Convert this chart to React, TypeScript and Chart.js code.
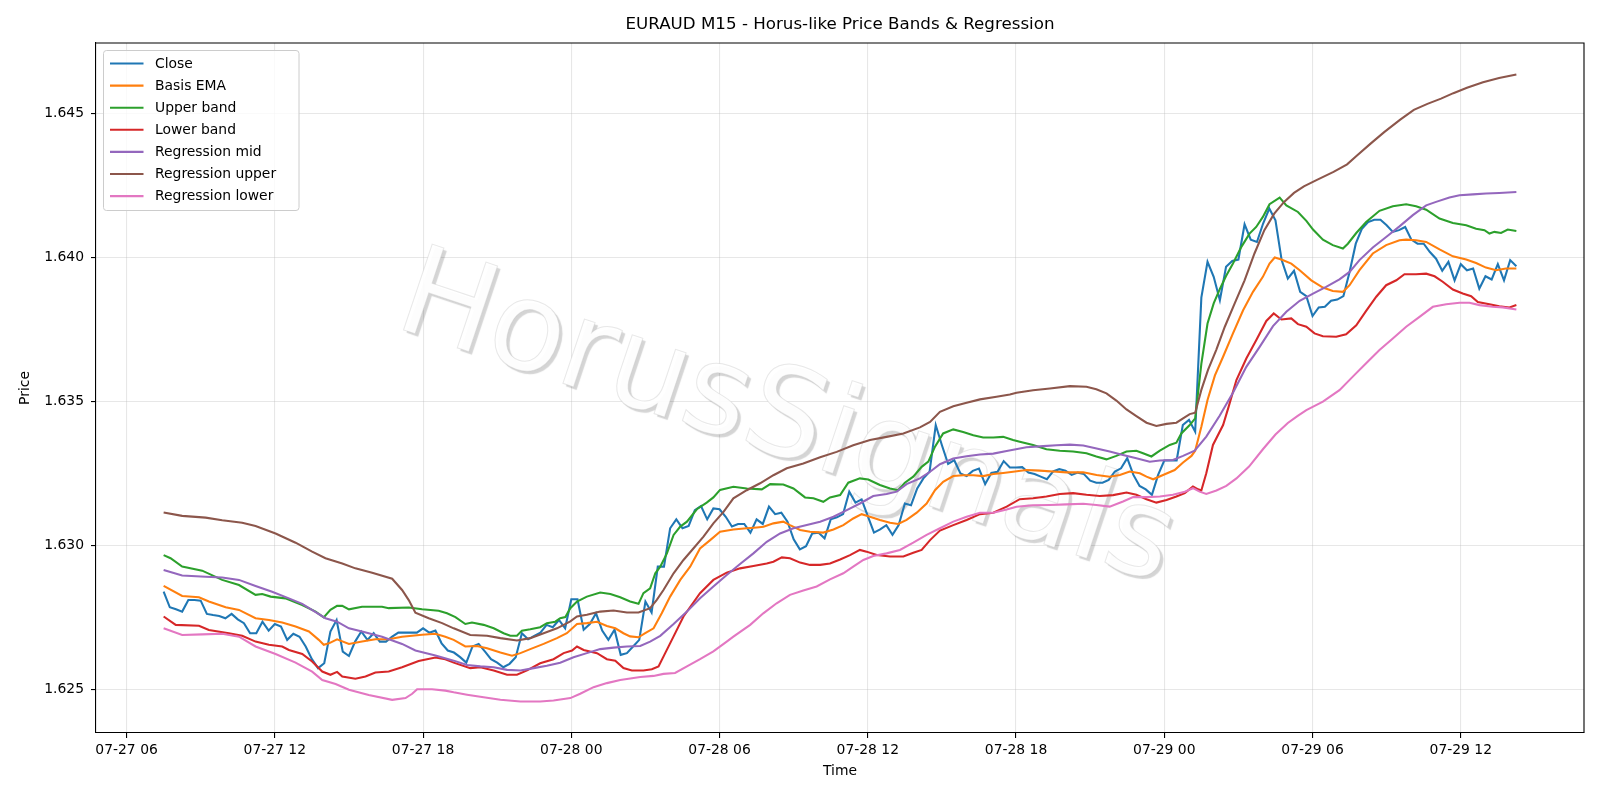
import React, { useEffect, useRef } from "react";
import { Chart, registerables } from "chart.js";

Chart.register(...registerables);

const TITLE = "EURAUD M15 - Horus-like Price Bands & Regression";
const X_LABEL = "Time";
const Y_LABEL = "Price";
const WATERMARK = "HorusSignals";

// hours counted from 07-27 00:00
const xTickHours = [6, 12, 18, 24, 30, 36, 42, 48, 54, 60];
const yTickValues = [1.625, 1.63, 1.635, 1.64, 1.645];

// Close: 15-minute bars starting 07-27 07:30
const closeStartHour = 7.5;
const closeStepHours = 0.25;
const closeValues = [
  1.62840, 1.62786, 1.62779, 1.62771, 1.62811, 1.62811, 1.62809, 1.62763, 1.62759, 1.62756,
  1.62748, 1.62763, 1.62744, 1.62731, 1.62696, 1.62696, 1.62736, 1.62705, 1.62728, 1.62719,
  1.62673, 1.62694, 1.62684, 1.62650, 1.62606, 1.62575, 1.62592, 1.62702, 1.62742, 1.62632,
  1.62617, 1.62667, 1.62702, 1.62673, 1.62696, 1.62667, 1.62667, 1.62684, 1.62698, 1.62698,
  1.62698, 1.62698, 1.62713, 1.62698, 1.62705, 1.62661, 1.62636, 1.62629,
  1.62613, 1.62594, 1.62650, 1.62659, 1.62633, 1.62606, 1.62594, 1.62578, 1.62590, 1.62613,
  1.62696, 1.62675, 1.62687, 1.62698, 1.62725, 1.62717, 1.62742, 1.62713, 1.62814, 1.62814,
  1.62708, 1.62728, 1.62765, 1.62705, 1.62673, 1.62708, 1.62621, 1.62627, 1.62650, 1.62673,
  1.62806, 1.62768, 1.62927, 1.62927, 1.63060, 1.63091, 1.63060, 1.63068, 1.63123, 1.63137,
  1.63091, 1.63129, 1.63126, 1.63100, 1.63066, 1.63075,
  1.63075, 1.63045, 1.63091, 1.63075, 1.63135, 1.63109, 1.63114, 1.63083, 1.63022, 1.62987,
  1.62998, 1.63042, 1.63045, 1.63025, 1.63091, 1.63098, 1.63109, 1.63187, 1.63149, 1.63160,
  1.63102, 1.63045, 1.63056, 1.63071, 1.63037, 1.63071, 1.63146, 1.63140, 1.63198, 1.63233,
  1.63256, 1.63418, 1.63348, 1.63283, 1.63296, 1.63250, 1.63241, 1.63259, 1.63267, 1.63213,
  1.63252, 1.63256, 1.63293, 1.63271, 1.63271,
  1.63272, 1.63253, 1.63248, 1.63239, 1.63230, 1.63257, 1.63265, 1.63260, 1.63245, 1.63253,
  1.63248, 1.63225, 1.63218, 1.63218, 1.63228, 1.63257, 1.63268, 1.63303, 1.63245, 1.63207,
  1.63195, 1.63176, 1.63245, 1.63295, 1.63295, 1.63295, 1.63418, 1.63436, 1.63395,
  1.63860, 1.63984, 1.63932, 1.63851, 1.63967, 1.63987, 1.63992, 1.64114, 1.64061, 1.64053,
  1.64117, 1.64169, 1.64128, 1.63990, 1.63926, 1.63953, 1.63880, 1.63865, 1.63796, 1.63826,
  1.63828, 1.63849, 1.63853, 1.63865, 1.63949, 1.64047, 1.64099, 1.64122, 1.64130, 1.64130,
  1.64111, 1.64088, 1.64094, 1.64105, 1.64061, 1.64047, 1.64047, 1.64018, 1.63995, 1.63953,
  1.63984, 1.63920, 1.63976, 1.63955, 1.63961, 1.63891, 1.63934, 1.63923, 1.63976, 1.63920,
  1.63990, 1.63969,
];

// smooth series: [hour, value]
const basisEma: [number, number][] = [
  [7.5, 1.62860], [8.25, 1.62825], [8.93, 1.62821], [9.33, 1.62806], [10.01, 1.62786], [10.55, 1.62777],
  [11.22, 1.62748], [11.76, 1.62742], [12.3, 1.62733], [12.84, 1.62719], [13.38, 1.62702], [13.78, 1.62673],
  [13.98, 1.62656], [14.19, 1.62661], [14.52, 1.62675], [15.0, 1.62659], [15.53, 1.62667], [16.07, 1.62675],
  [16.61, 1.62675], [17.15, 1.62684], [17.96, 1.62691], [18.5, 1.62694], [18.9, 1.62684],
  [19.24, 1.62673], [19.71, 1.62650], [20.18, 1.62652], [20.59, 1.62644], [21.13, 1.62629], [21.6, 1.62618],
  [21.94, 1.62627], [22.34, 1.62641], [22.88, 1.62659], [23.42, 1.62679], [23.82, 1.62696], [24.23, 1.62728],
  [24.63, 1.62731], [25.04, 1.62736], [25.44, 1.62721], [25.78, 1.62713], [26.11, 1.62696], [26.38, 1.62685],
  [26.72, 1.62682], [26.99, 1.62696], [27.33, 1.62713], [27.66, 1.62765], [28.0, 1.62823], [28.41, 1.62881],
  [28.81, 1.62927], [29.21, 1.62990], [29.62, 1.63019], [30.02, 1.63048],
  [30.56, 1.63056], [31.1, 1.63060], [31.51, 1.63063], [31.78, 1.63065], [32.18, 1.63077], [32.58, 1.63083],
  [32.85, 1.63071], [33.26, 1.63054], [33.66, 1.63048], [34.2, 1.63045], [34.61, 1.63056], [35.01, 1.63071],
  [35.41, 1.63094], [35.75, 1.63109], [36.09, 1.63100], [36.49, 1.63089], [36.9, 1.63079], [37.23, 1.63075],
  [37.57, 1.63089], [37.98, 1.63114], [38.38, 1.63146], [38.72, 1.63192], [39.05, 1.63221], [39.46, 1.63241],
  [39.86, 1.63244], [40.27, 1.63244], [40.67, 1.63241], [41.08, 1.63248], [41.48, 1.63252], [41.88, 1.63256],
  [42.42, 1.63262], [42.96, 1.63260], [43.5, 1.63257], [44.04, 1.63254], [44.72, 1.63254], [45.26, 1.63245],
  [45.79, 1.63239], [46.2, 1.63245], [46.6, 1.63257], [47.01, 1.63251], [47.28, 1.63239], [47.55, 1.63230],
  [47.95, 1.63245], [48.42, 1.63262], [48.76, 1.63288], [49.1, 1.63311], [49.25, 1.63329], [49.5, 1.63412],
  [49.75, 1.63505], [50.05, 1.63590], [50.38, 1.63655], [50.78, 1.63736], [51.19, 1.63816], [51.59, 1.63880],
  [51.99, 1.63932], [52.26, 1.63978], [52.47, 1.63999], [52.74, 1.63992], [53.14, 1.63978], [53.48, 1.63955],
  [53.95, 1.63920], [54.42, 1.63895], [54.82, 1.63883], [55.23, 1.63880], [55.5, 1.63903], [55.9, 1.63955],
  [56.44, 1.64013], [56.98, 1.64042], [57.52, 1.64059], [57.79, 1.64061], [58.19, 1.64059], [58.6, 1.64053],
  [59.14, 1.64027], [59.68, 1.64003], [60.22, 1.63992], [60.62, 1.63980], [61.02, 1.63964], [61.43, 1.63955],
  [61.83, 1.63961], [62.25, 1.63961],
];

const upperBand: [number, number][] = [
  [7.5, 1.62967], [7.78, 1.62956], [8.25, 1.62927], [9.06, 1.62913], [9.87, 1.62881], [10.55, 1.62863],
  [11.22, 1.62829], [11.49, 1.62832], [11.83, 1.62823], [12.43, 1.62817], [13.11, 1.62794], [13.65, 1.62771],
  [13.98, 1.62751], [14.25, 1.62777], [14.52, 1.62791], [14.73, 1.62791], [15.0, 1.62779], [15.53, 1.62788],
  [16.34, 1.62788], [16.61, 1.62783], [17.42, 1.62785], [17.96, 1.62779], [18.63, 1.62774],
  [18.97, 1.62765], [19.31, 1.62752], [19.71, 1.62728], [19.98, 1.62733], [20.45, 1.62725], [20.86, 1.62713],
  [21.26, 1.62696], [21.53, 1.62687], [21.8, 1.62687], [22.0, 1.62705], [22.34, 1.62710], [22.74, 1.62717],
  [23.01, 1.62731], [23.35, 1.62736], [23.55, 1.62748], [23.76, 1.62752], [23.96, 1.62783], [24.23, 1.62806],
  [24.63, 1.62823], [25.17, 1.62837], [25.58, 1.62832], [25.98, 1.62821], [26.38, 1.62806], [26.72, 1.62798],
  [26.92, 1.62835], [27.19, 1.62852], [27.4, 1.62904], [27.6, 1.62927], [27.87, 1.62973], [28.14, 1.63037],
  [28.41, 1.63066], [28.68, 1.63083], [29.08, 1.63126], [29.48, 1.63149], [29.75, 1.63167], [30.02, 1.63193],
  [30.56, 1.63204], [31.1, 1.63198], [31.71, 1.63195], [32.05, 1.63213], [32.58, 1.63212], [32.99, 1.63198],
  [33.46, 1.63167], [33.8, 1.63164], [34.2, 1.63152], [34.47, 1.63167], [34.88, 1.63175], [35.21, 1.63218],
  [35.68, 1.63233], [36.02, 1.63229], [36.49, 1.63210], [36.9, 1.63198], [37.23, 1.63192], [37.5, 1.63218],
  [37.84, 1.63239], [38.18, 1.63273], [38.45, 1.63291], [38.72, 1.63343], [39.05, 1.63389], [39.46, 1.63403],
  [39.86, 1.63394], [40.27, 1.63383], [40.67, 1.63375], [41.08, 1.63375], [41.48, 1.63377], [41.88, 1.63366],
  [42.15, 1.63360], [42.69, 1.63349], [43.23, 1.63334], [43.77, 1.63329], [44.31, 1.63326], [44.85, 1.63320],
  [45.25, 1.63309], [45.66, 1.63299], [46.06, 1.63311], [46.47, 1.63326], [46.87, 1.63329], [47.14, 1.63320],
  [47.48, 1.63309], [47.82, 1.63329], [48.22, 1.63349], [48.49, 1.63357], [48.69, 1.63389], [49.03, 1.63418],
  [49.25, 1.63441], [49.5, 1.63630], [49.75, 1.63770], [50.0, 1.63840], [50.25, 1.63890], [50.5, 1.63935],
  [50.78, 1.63978], [51.12, 1.64036], [51.45, 1.64082], [51.72, 1.64105], [51.99, 1.64140], [52.26, 1.64184],
  [52.67, 1.64207], [52.94, 1.64180], [53.41, 1.64157], [53.75, 1.64126], [54.02, 1.64096], [54.42, 1.64061],
  [54.82, 1.64042], [55.23, 1.64030], [55.43, 1.64047], [55.77, 1.64084], [56.17, 1.64122], [56.71, 1.64161],
  [57.25, 1.64177], [57.79, 1.64184], [58.19, 1.64177], [58.6, 1.64165], [59.14, 1.64134], [59.68, 1.64119],
  [60.22, 1.64111], [60.62, 1.64099], [60.96, 1.64094], [61.16, 1.64082], [61.36, 1.64088], [61.63, 1.64084],
  [61.9, 1.64096], [62.25, 1.64091],
];

const lowerBand: [number, number][] = [
  [7.5, 1.62754], [7.99, 1.62725], [8.93, 1.62722], [9.33, 1.62707], [10.14, 1.62696], [10.68, 1.62687],
  [11.22, 1.62667], [11.76, 1.62656], [12.3, 1.62650], [12.57, 1.62638], [13.11, 1.62624], [13.51, 1.62598],
  [13.92, 1.62563], [14.25, 1.62552], [14.52, 1.62562], [14.73, 1.62546], [15.26, 1.62538], [15.67, 1.62546],
  [16.07, 1.62560], [16.61, 1.62563], [17.15, 1.62578], [17.82, 1.62600], [18.5, 1.62612], [18.9, 1.62606],
  [19.24, 1.62594], [19.91, 1.62575], [20.32, 1.62578], [20.86, 1.62567], [21.4, 1.62552], [21.8, 1.62552],
  [22.21, 1.62567], [22.74, 1.62592], [23.28, 1.62606], [23.69, 1.62627], [24.03, 1.62636], [24.23, 1.62650],
  [24.5, 1.62638], [25.04, 1.62627], [25.44, 1.62606], [25.78, 1.62601], [26.11, 1.62575], [26.45, 1.62567],
  [26.92, 1.62567], [27.26, 1.62571], [27.53, 1.62581], [27.8, 1.62627], [28.14, 1.62685], [28.54, 1.62754],
  [29.21, 1.62835], [29.75, 1.62881], [30.29, 1.62906],
  [30.83, 1.62921], [31.37, 1.62929], [31.91, 1.62938], [32.18, 1.62944], [32.52, 1.62959], [32.85, 1.62956],
  [33.26, 1.62941], [33.66, 1.62933], [34.07, 1.62933], [34.47, 1.62938], [34.88, 1.62952], [35.28, 1.62967],
  [35.68, 1.62985], [35.95, 1.62979], [36.36, 1.62967], [36.9, 1.62962], [37.44, 1.62962], [37.84, 1.62975],
  [38.18, 1.62985], [38.52, 1.63019], [38.92, 1.63052], [39.46, 1.63071], [40.0, 1.63089], [40.54, 1.63109],
  [41.08, 1.63114], [41.62, 1.63135],
  [42.15, 1.63161], [42.69, 1.63164], [43.23, 1.63170], [43.77, 1.63179], [44.31, 1.63182], [44.85, 1.63176],
  [45.39, 1.63172], [45.93, 1.63175], [46.47, 1.63184], [46.87, 1.63176], [47.28, 1.63161], [47.68, 1.63149],
  [48.09, 1.63158], [48.49, 1.63170], [48.83, 1.63182], [49.16, 1.63205], [49.37, 1.63195], [49.5, 1.63191],
  [49.7, 1.63251], [49.97, 1.63349], [50.38, 1.63418], [50.6, 1.63480],
  [50.92, 1.63574], [51.32, 1.63649], [51.72, 1.63712], [52.13, 1.63779], [52.43, 1.63805], [52.74, 1.63784],
  [53.14, 1.63788], [53.41, 1.63768], [53.75, 1.63759], [54.08, 1.63736], [54.42, 1.63726], [54.96, 1.63724],
  [55.36, 1.63733], [55.77, 1.63764], [56.17, 1.63814], [56.58, 1.63863], [56.98, 1.63903], [57.39, 1.63920],
  [57.72, 1.63941], [58.19, 1.63941], [58.6, 1.63943], [58.94, 1.63934], [59.27, 1.63915], [59.68, 1.63888],
  [60.08, 1.63874], [60.42, 1.63865], [60.69, 1.63845], [61.16, 1.63837], [61.56, 1.63830], [61.97, 1.63826],
  [62.25, 1.63834],
];

const regressionMid: [number, number][] = [
  [7.5, 1.62915], [8.25, 1.62896], [9.2, 1.62892], [9.87, 1.62889], [10.55, 1.62881], [11.22, 1.62860],
  [11.89, 1.62840], [12.57, 1.62817], [13.11, 1.62798], [13.65, 1.62769], [14.05, 1.62748], [14.52, 1.62736],
  [15.0, 1.62713], [15.53, 1.62702], [16.34, 1.62684], [17.15, 1.62659], [17.69, 1.62636], [18.5, 1.62619],
  [19.24, 1.62601], [19.78, 1.62586], [20.32, 1.62581], [20.86, 1.62578], [21.4, 1.62569], [21.94, 1.62567],
  [22.48, 1.62575], [23.01, 1.62583], [23.55, 1.62594], [24.09, 1.62613], [24.63, 1.62627], [25.17, 1.62641],
  [25.71, 1.62646], [26.25, 1.62650], [26.79, 1.62652], [27.19, 1.62667], [27.6, 1.62687], [28.14, 1.62728],
  [28.68, 1.62771], [29.21, 1.62817], [29.75, 1.62858], [30.29, 1.62898],
  [30.83, 1.62936], [31.37, 1.62973], [31.91, 1.63013], [32.45, 1.63042], [32.99, 1.63060], [33.53, 1.63071],
  [34.07, 1.63083], [34.61, 1.63100], [35.15, 1.63123], [35.68, 1.63146], [36.22, 1.63172], [36.76, 1.63179],
  [37.17, 1.63187], [37.57, 1.63213], [38.11, 1.63233], [38.52, 1.63256], [38.92, 1.63282], [39.46, 1.63302],
  [40.0, 1.63310], [40.54, 1.63316], [41.08, 1.63319], [41.62, 1.63328],
  [42.42, 1.63341], [43.1, 1.63345], [43.64, 1.63348], [44.18, 1.63350], [44.72, 1.63347], [45.26, 1.63337],
  [45.79, 1.63326], [46.33, 1.63314], [46.87, 1.63303], [47.41, 1.63291], [47.82, 1.63295], [48.35, 1.63297],
  [48.76, 1.63311], [49.23, 1.63329], [49.7, 1.63378], [50.24, 1.63450],
  [50.78, 1.63530], [51.32, 1.63620], [51.86, 1.63689], [52.4, 1.63761], [52.94, 1.63811], [53.48, 1.63849],
  [54.02, 1.63874], [54.55, 1.63897], [55.09, 1.63923], [55.5, 1.63949], [55.9, 1.63990], [56.44, 1.64034],
  [56.98, 1.64070], [57.52, 1.64107], [58.06, 1.64146], [58.6, 1.64180], [59.0, 1.64192], [59.54, 1.64207],
  [59.95, 1.64215], [60.49, 1.64218], [61.02, 1.64221], [61.56, 1.64223], [62.25, 1.64226],
];

const regressionUpper: [number, number][] = [
  [7.5, 1.63115], [8.25, 1.63103], [9.2, 1.63097], [9.87, 1.63088], [10.68, 1.63079], [11.22, 1.63068],
  [12.03, 1.63042], [12.84, 1.63010], [13.51, 1.62979], [14.05, 1.62956], [14.73, 1.62938], [15.26, 1.62921],
  [15.94, 1.62906], [16.75, 1.62885], [17.15, 1.62846], [17.42, 1.62811], [17.69, 1.62767], [18.23, 1.62748],
  [18.77, 1.62731],
  [19.24, 1.62713], [19.91, 1.62690], [20.59, 1.62687], [21.13, 1.62679], [21.8, 1.62671], [22.34, 1.62679],
  [22.88, 1.62696], [23.42, 1.62713], [23.96, 1.62737], [24.23, 1.62754], [24.63, 1.62760], [25.17, 1.62771],
  [25.71, 1.62775], [26.25, 1.62768], [26.72, 1.62768], [27.19, 1.62783], [27.46, 1.62812], [27.73, 1.62846],
  [28.14, 1.62904], [28.54, 1.62950], [28.94, 1.62990], [29.35, 1.63031], [29.75, 1.63077], [30.16, 1.63117],
  [30.56, 1.63164], [31.1, 1.63192], [31.64, 1.63216], [32.18, 1.63244], [32.72, 1.63268], [33.39, 1.63285],
  [34.07, 1.63306], [34.74, 1.63325], [35.41, 1.63348], [36.09, 1.63366], [36.76, 1.63377], [37.44, 1.63389],
  [38.11, 1.63410], [38.52, 1.63429], [38.92, 1.63464], [39.46, 1.63483], [40.0, 1.63495], [40.54, 1.63507],
  [41.21, 1.63516], [41.75, 1.63524],
  [42.02, 1.63530], [42.69, 1.63539], [43.37, 1.63545], [44.18, 1.63553], [44.85, 1.63551], [45.25, 1.63542],
  [45.66, 1.63528], [46.06, 1.63503], [46.47, 1.63472], [46.87, 1.63449], [47.28, 1.63426], [47.68, 1.63415],
  [48.09, 1.63422], [48.49, 1.63426], [48.76, 1.63441], [49.03, 1.63456], [49.25, 1.63461],
  [49.5, 1.63540], [49.77, 1.63609], [50.1, 1.63678], [50.45, 1.63759], [50.85, 1.63840], [51.25, 1.63920],
  [51.65, 1.64013], [52.05, 1.64094], [52.45, 1.64151], [52.85, 1.64192], [53.25, 1.64223], [53.65, 1.64246],
  [54.2, 1.64269], [54.85, 1.64296], [55.4, 1.64322], [55.8, 1.64353], [56.35, 1.64394], [56.9, 1.64434],
  [57.55, 1.64477], [58.1, 1.64511], [58.65, 1.64532], [59.2, 1.64550], [59.7, 1.64569], [60.25, 1.64588],
  [60.9, 1.64607], [61.55, 1.64622], [62.25, 1.64634],
];

const regressionLower: [number, number][] = [
  [7.5, 1.62713], [8.25, 1.62690], [9.06, 1.62692], [9.87, 1.62694], [10.55, 1.62684], [11.22, 1.62650],
  [12.03, 1.62624], [12.84, 1.62594], [13.51, 1.62563], [13.92, 1.62534], [14.46, 1.62520], [15.0, 1.62500],
  [15.8, 1.62482], [16.75, 1.62465], [17.29, 1.62471], [17.56, 1.62486], [17.76, 1.62502], [18.36, 1.62502],
  [18.9, 1.62497],
  [19.24, 1.62491], [19.78, 1.62483], [20.45, 1.62474], [21.13, 1.62465], [21.94, 1.62459], [22.74, 1.62459],
  [23.28, 1.62463], [23.96, 1.62471], [24.36, 1.62486], [24.9, 1.62509], [25.44, 1.62523], [25.98, 1.62534],
  [26.79, 1.62544], [27.33, 1.62548], [27.73, 1.62555], [28.2, 1.62558], [28.68, 1.62581], [29.21, 1.62606],
  [29.75, 1.62633], [30.29, 1.62667],
  [30.56, 1.62684], [31.24, 1.62725], [31.77, 1.62765], [32.31, 1.62800], [32.85, 1.62829], [33.39, 1.62844],
  [33.93, 1.62858], [34.47, 1.62883], [35.01, 1.62904], [35.41, 1.62927], [35.82, 1.62950], [36.22, 1.62964],
  [36.76, 1.62973], [37.3, 1.62985], [37.84, 1.63010], [38.38, 1.63037], [38.92, 1.63060], [39.46, 1.63083],
  [40.0, 1.63100], [40.54, 1.63114], [41.08, 1.63114], [41.62, 1.63125],
  [42.02, 1.63135], [42.69, 1.63140], [43.37, 1.63141], [44.04, 1.63143], [44.72, 1.63145], [45.25, 1.63141],
  [45.79, 1.63135], [46.33, 1.63153], [46.74, 1.63168], [47.28, 1.63168], [47.82, 1.63170], [48.35, 1.63176],
  [48.83, 1.63187], [49.16, 1.63199], [49.43, 1.63187], [49.7, 1.63179], [50.11, 1.63191], [50.51, 1.63207],
  [50.92, 1.63233], [51.43, 1.63274], [52.0, 1.63335], [52.5, 1.63385], [53.0, 1.63425], [53.4, 1.63450],
  [53.75, 1.63470], [54.42, 1.63499], [55.09, 1.63539], [55.63, 1.63586], [56.17, 1.63632], [56.71, 1.63678],
  [57.25, 1.63718], [57.79, 1.63759], [58.33, 1.63793], [58.87, 1.63828], [59.41, 1.63837], [59.95, 1.63842],
  [60.35, 1.63842], [60.76, 1.63834], [61.29, 1.63828], [61.7, 1.63826], [62.25, 1.63819],
];

const seriesLabels = [
  "Close",
  "Basis EMA",
  "Upper band",
  "Lower band",
  "Regression mid",
  "Regression upper",
  "Regression lower",
];
const seriesColors = ["#1f77b4", "#ff7f0e", "#2ca02c", "#d62728", "#9467bd", "#8c564b", "#e377c2"];

const FONT = "'DejaVu Sans', 'Liberation Sans', sans-serif";

function hourLabel(h: number): string {
  const day = 27 + Math.floor(h / 24);
  const hh = h % 24;
  return `07-${day} ${String(hh).padStart(2, "0")}`;
}

const decorPlugin = {
  id: "mplDecor",
  beforeDatasetsDraw(chart: any) {
    const ctx = chart.ctx;
    ctx.save();
    ctx.translate(392, 326);
    ctx.rotate((18.5 * Math.PI) / 180);
    ctx.font = `124px ${FONT}`;
    ctx.textAlign = "left";
    ctx.textBaseline = "alphabetic";
    ctx.shadowColor = "rgba(0,0,0,0.18)";
    ctx.shadowOffsetX = 3;
    ctx.shadowOffsetY = 3;
    ctx.shadowBlur = 1;
    ctx.fillStyle = "rgba(255,255,255,0.94)";
    ctx.fillText(WATERMARK, 0, 0);
    ctx.shadowColor = "rgba(0,0,0,0)";
    ctx.strokeStyle = "rgba(190,190,190,0.35)";
    ctx.lineWidth = 1;
    ctx.strokeText(WATERMARK, 0, 0);
    ctx.restore();
  },
  afterDraw(chart: any) {
    const ctx = chart.ctx;
    const a = chart.chartArea;
    ctx.save();
    // top & right spines
    ctx.strokeStyle = "#000";
    ctx.lineWidth = 1.1;
    ctx.beginPath();
    ctx.moveTo(a.left, a.top);
    ctx.lineTo(a.right, a.top);
    ctx.lineTo(a.right, a.bottom);
    ctx.stroke();

    // title
    ctx.fillStyle = "#000";
    ctx.font = `16.7px ${FONT}`;
    ctx.textAlign = "center";
    ctx.textBaseline = "middle";
    ctx.fillText(TITLE, (a.left + a.right) / 2, 25);

    // axis labels
    ctx.font = `13.9px ${FONT}`;
    ctx.fillText(X_LABEL, (a.left + a.right) / 2, 771);
    ctx.save();
    ctx.translate(25.5, (a.top + a.bottom) / 2);
    ctx.rotate(-Math.PI / 2);
    ctx.fillText(Y_LABEL, 0, 0);
    ctx.restore();

    // legend
    const lx = 103.5, ly = 50.5, lw = 195.5, lh = 160;
    ctx.beginPath();
    (ctx as any).roundRect(lx, ly, lw, lh, 3);
    ctx.fillStyle = "rgba(255,255,255,0.8)";
    ctx.fill();
    ctx.strokeStyle = "#cccccc";
    ctx.lineWidth = 1;
    ctx.stroke();
    ctx.textAlign = "left";
    ctx.textBaseline = "middle";
    seriesLabels.forEach((lab, i) => {
      const y = 63.5 + i * 22.1;
      ctx.strokeStyle = seriesColors[i];
      ctx.lineWidth = 2.08;
      ctx.beginPath();
      ctx.moveTo(110, y);
      ctx.lineTo(143.5, y);
      ctx.stroke();
      ctx.fillStyle = "#000";
      ctx.fillText(lab, 155, y + 0.5);
    });
    ctx.restore();
  },
};

export default function App() {
  const canvasRef = useRef<HTMLCanvasElement | null>(null);

  useEffect(() => {
    if (!canvasRef.current) return;
    const closePoints = closeValues.map((v, i) => ({ x: closeStartHour + i * closeStepHours, y: v }));
    const toPts = (arr: [number, number][]) => arr.map(([x, y]) => ({ x, y }));
    const seriesData = [
      closePoints,
      toPts(basisEma),
      toPts(upperBand),
      toPts(lowerBand),
      toPts(regressionMid),
      toPts(regressionUpper),
      toPts(regressionLower),
    ];

    const chart = new Chart(canvasRef.current, {
      type: "line",
      data: {
        datasets: seriesData.map((d, i) => ({
          label: seriesLabels[i],
          data: d,
          borderColor: seriesColors[i],
          backgroundColor: seriesColors[i],
          borderWidth: 2.08,
          pointRadius: 0,
          tension: 0,
          fill: false,
          order: seriesData.length - i,
        })),
      },
      options: {
        animation: false,
        responsive: false,
        devicePixelRatio: 1,
        events: [],
        layout: { padding: { top: 43, right: 16, bottom: 0, left: 0 } },
        plugins: {
          legend: { display: false },
          title: { display: false },
          tooltip: { enabled: false },
        },
        scales: {
          x: {
            type: "linear",
            min: 4.7625,
            max: 64.9875,
            grid: {
              color: "rgba(176,176,176,0.3)",
              lineWidth: 1.1,
              tickLength: 5,
              tickColor: "#000",
              tickWidth: 1.1,
            },
            border: { display: true, color: "#000", width: 1.1 },
            ticks: {
              color: "#000",
              font: { family: FONT, size: 13.9 },
              padding: 4,
              maxRotation: 0,
              autoSkip: false,
              callback: (v: any) => hourLabel(Number(v)),
            },
            afterBuildTicks: (s: any) => {
              s.ticks = xTickHours.map((v) => ({ value: v }));
            },
            afterFit: (s: any) => {
              s.height = 67;
            },
          },
          y: {
            type: "linear",
            min: 1.6235,
            max: 1.64743,
            grid: {
              color: "rgba(176,176,176,0.3)",
              lineWidth: 1.1,
              tickLength: 5,
              tickColor: "#000",
              tickWidth: 1.1,
            },
            border: { display: true, color: "#000", width: 1.1 },
            ticks: {
              color: "#000",
              font: { family: FONT, size: 13.9 },
              padding: 7,
              autoSkip: false,
              callback: (v: any) => Number(v).toFixed(3),
            },
            afterBuildTicks: (s: any) => {
              s.ticks = yTickValues.map((v) => ({ value: v }));
            },
            afterFit: (s: any) => {
              s.width = 96;
            },
          },
        },
      },
      plugins: [decorPlugin],
    } as any);

    return () => {
      chart.destroy();
    };
  }, []);

  return (
    <div
      style={{
        position: "fixed",
        left: 0,
        top: 0,
        width: 1600,
        height: 800,
        background: "#ffffff",
      }}
    >
      <canvas ref={canvasRef} width={1600} height={800} style={{ width: 1600, height: 800, display: "block" }} />
    </div>
  );
}
